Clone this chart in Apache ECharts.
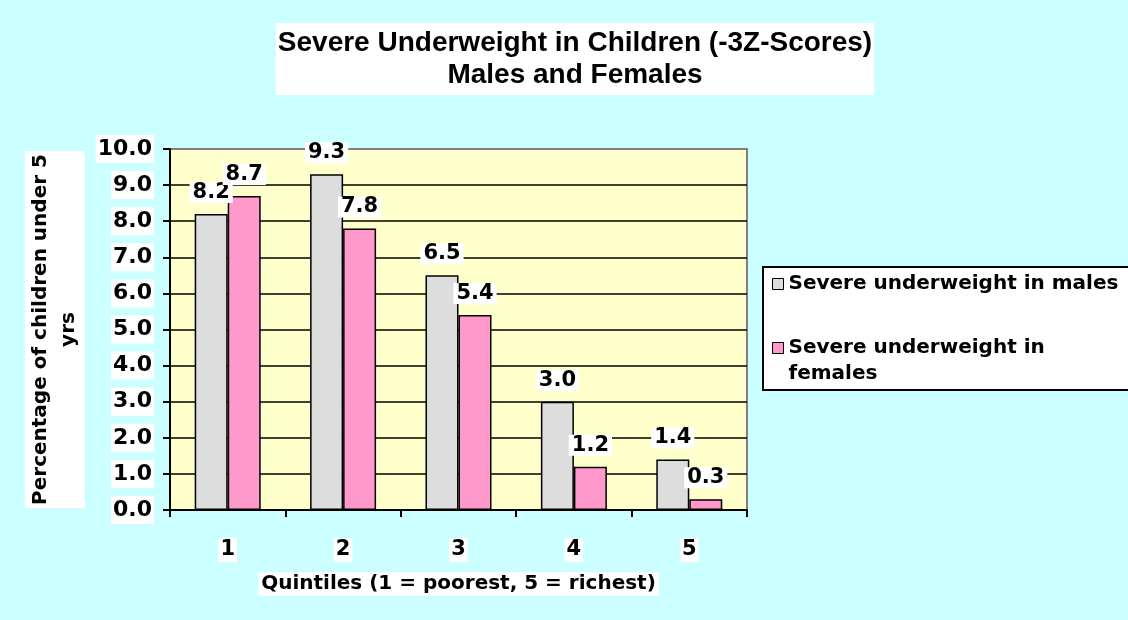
<!DOCTYPE html>
<html>
<head>
<meta charset="utf-8">
<script src="https://cdn.jsdelivr.net/npm/echarts@6/dist/echarts.min.js"></script>
<style>
  html, body { margin: 0; padding: 0; background: #CCFFFF; }
  #chart { width: 1128px; height: 620px; }
</style>
</head>
<body>
<div id="chart"></div>
<script>
var categories = ['1', '2', '3', '4', '5'];
var males = [8.2, 9.3, 6.5, 3.0, 1.4];
var females = [8.7, 7.8, 5.4, 1.2, 0.3];
var seriesNames = ['Severe underweight in males', 'Severe underweight in females'];
// second entry wraps; the blank first line keeps the icon level with "Severe..."
var legendLabels = ['Severe underweight in males', ' \nSevere underweight in\nfemales'];

var font = 'DejaVu Sans';
var myChart = echarts.init(document.getElementById('chart'));

var barLabel = {
    show: true,
    position: 'top',
    distance: 11,
    fontFamily: font,
    fontWeight: 'bold',
    fontSize: 21,
    lineHeight: 21,
    color: '#000',
    backgroundColor: '#fff',
    padding: [0, 3],
    formatter: function (p) { return p.value.toFixed(1); }
};

var option = {
    backgroundColor: '#CCFFFF',
    animation: false,
    title: {
        text: 'Severe Underweight in Children (-3Z-Scores)\nMales and Females',
        left: 573,
        top: 23,
        textAlign: 'center',
        backgroundColor: '#fff',
        padding: [4, 2, 4, 2],
        textStyle: {
            fontFamily: 'Liberation Sans',
            fontWeight: 'bold',
            fontSize: 28,
            lineHeight: 32,
            color: '#000',
            align: 'center'
        }
    },
    legend: {
        orient: 'vertical',
        left: 763,
        top: 267,
        backgroundColor: '#fff',
        borderColor: '#000',
        borderWidth: 2,
        padding: [4, 30, 3, 9],
        itemGap: 12,
        itemWidth: 11,
        itemHeight: 11,
        itemTextGap: 8,
        itemStyle: { borderColor: '#000', borderWidth: 1 },
        textStyle: {
            fontFamily: font,
            fontWeight: 'bold',
            fontSize: 20,
            lineHeight: 26,
            color: '#000'
        },
        data: seriesNames.map(function (n) { return { name: n, icon: 'rect' }; }),
        formatter: function (name) {
            return legendLabels[seriesNames.indexOf(name)];
        }
    },
    grid: {
        left: 170,
        right: 381,
        top: 149,
        bottom: 110,
        show: true,
        backgroundColor: '#FFFFCC',
        borderColor: '#808080',
        borderWidth: 2
    },
    xAxis: {
        type: 'category',
        data: categories,
        name: 'Quintiles (1 = poorest, 5 = richest)',
        nameLocation: 'middle',
        nameGap: 62,
        nameTextStyle: {
            fontFamily: font,
            fontWeight: 'bold',
            fontSize: 20,
            lineHeight: 22,
            color: '#000',
            backgroundColor: '#fff',
            padding: [1, 3]
        },
        axisLine: { lineStyle: { color: '#000', width: 2 } },
        axisTick: { show: true, length: 7, lineStyle: { color: '#000', width: 2 } },
        axisLabel: {
            margin: 28,
            fontFamily: font,
            fontWeight: 'bold',
            fontSize: 21,
            lineHeight: 24,
            color: '#000',
            backgroundColor: '#fff',
            padding: [0, 2]
        }
    },
    yAxis: {
        type: 'value',
        min: 0,
        max: 10,
        interval: 1,
        name: 'Percentage of children under 5\nyrs',
        nameLocation: 'middle',
        nameRotate: 90,
        nameGap: 82,
        nameTextStyle: {
            fontFamily: font,
            fontWeight: 'bold',
            fontSize: 20,
            lineHeight: 28,
            color: '#000',
            backgroundColor: '#fff',
            padding: [2, 3],
            align: 'center'
        },
        axisLine: { show: true, lineStyle: { color: '#000', width: 2 } },
        axisTick: { show: true, length: 7, lineStyle: { color: '#000', width: 2 } },
        splitLine: { show: true, showMaxLine: false, lineStyle: { color: '#000', width: 1.5 } },
        axisLabel: {
            margin: 16,
            fontFamily: font,
            fontWeight: 'bold',
            fontSize: 22,
            lineHeight: 26,
            color: '#000',
            backgroundColor: '#fff',
            padding: [1, 2],
            formatter: function (v) { return v.toFixed(1); }
        }
    },
    series: [
        {
            name: seriesNames[0],
            type: 'bar',
            data: males,
            barWidth: 33,
            barGap: '0%',
            itemStyle: { color: '#DDDDDD', borderColor: '#000', borderWidth: 1.5 },
            label: barLabel
        },
        {
            name: seriesNames[1],
            type: 'bar',
            data: females,
            barWidth: 33,
            barGap: '0%',
            itemStyle: { color: '#FF99CC', borderColor: '#000', borderWidth: 1.5 },
            label: barLabel
        }
    ]
};
myChart.setOption(option);
</script>
</body>
</html>
